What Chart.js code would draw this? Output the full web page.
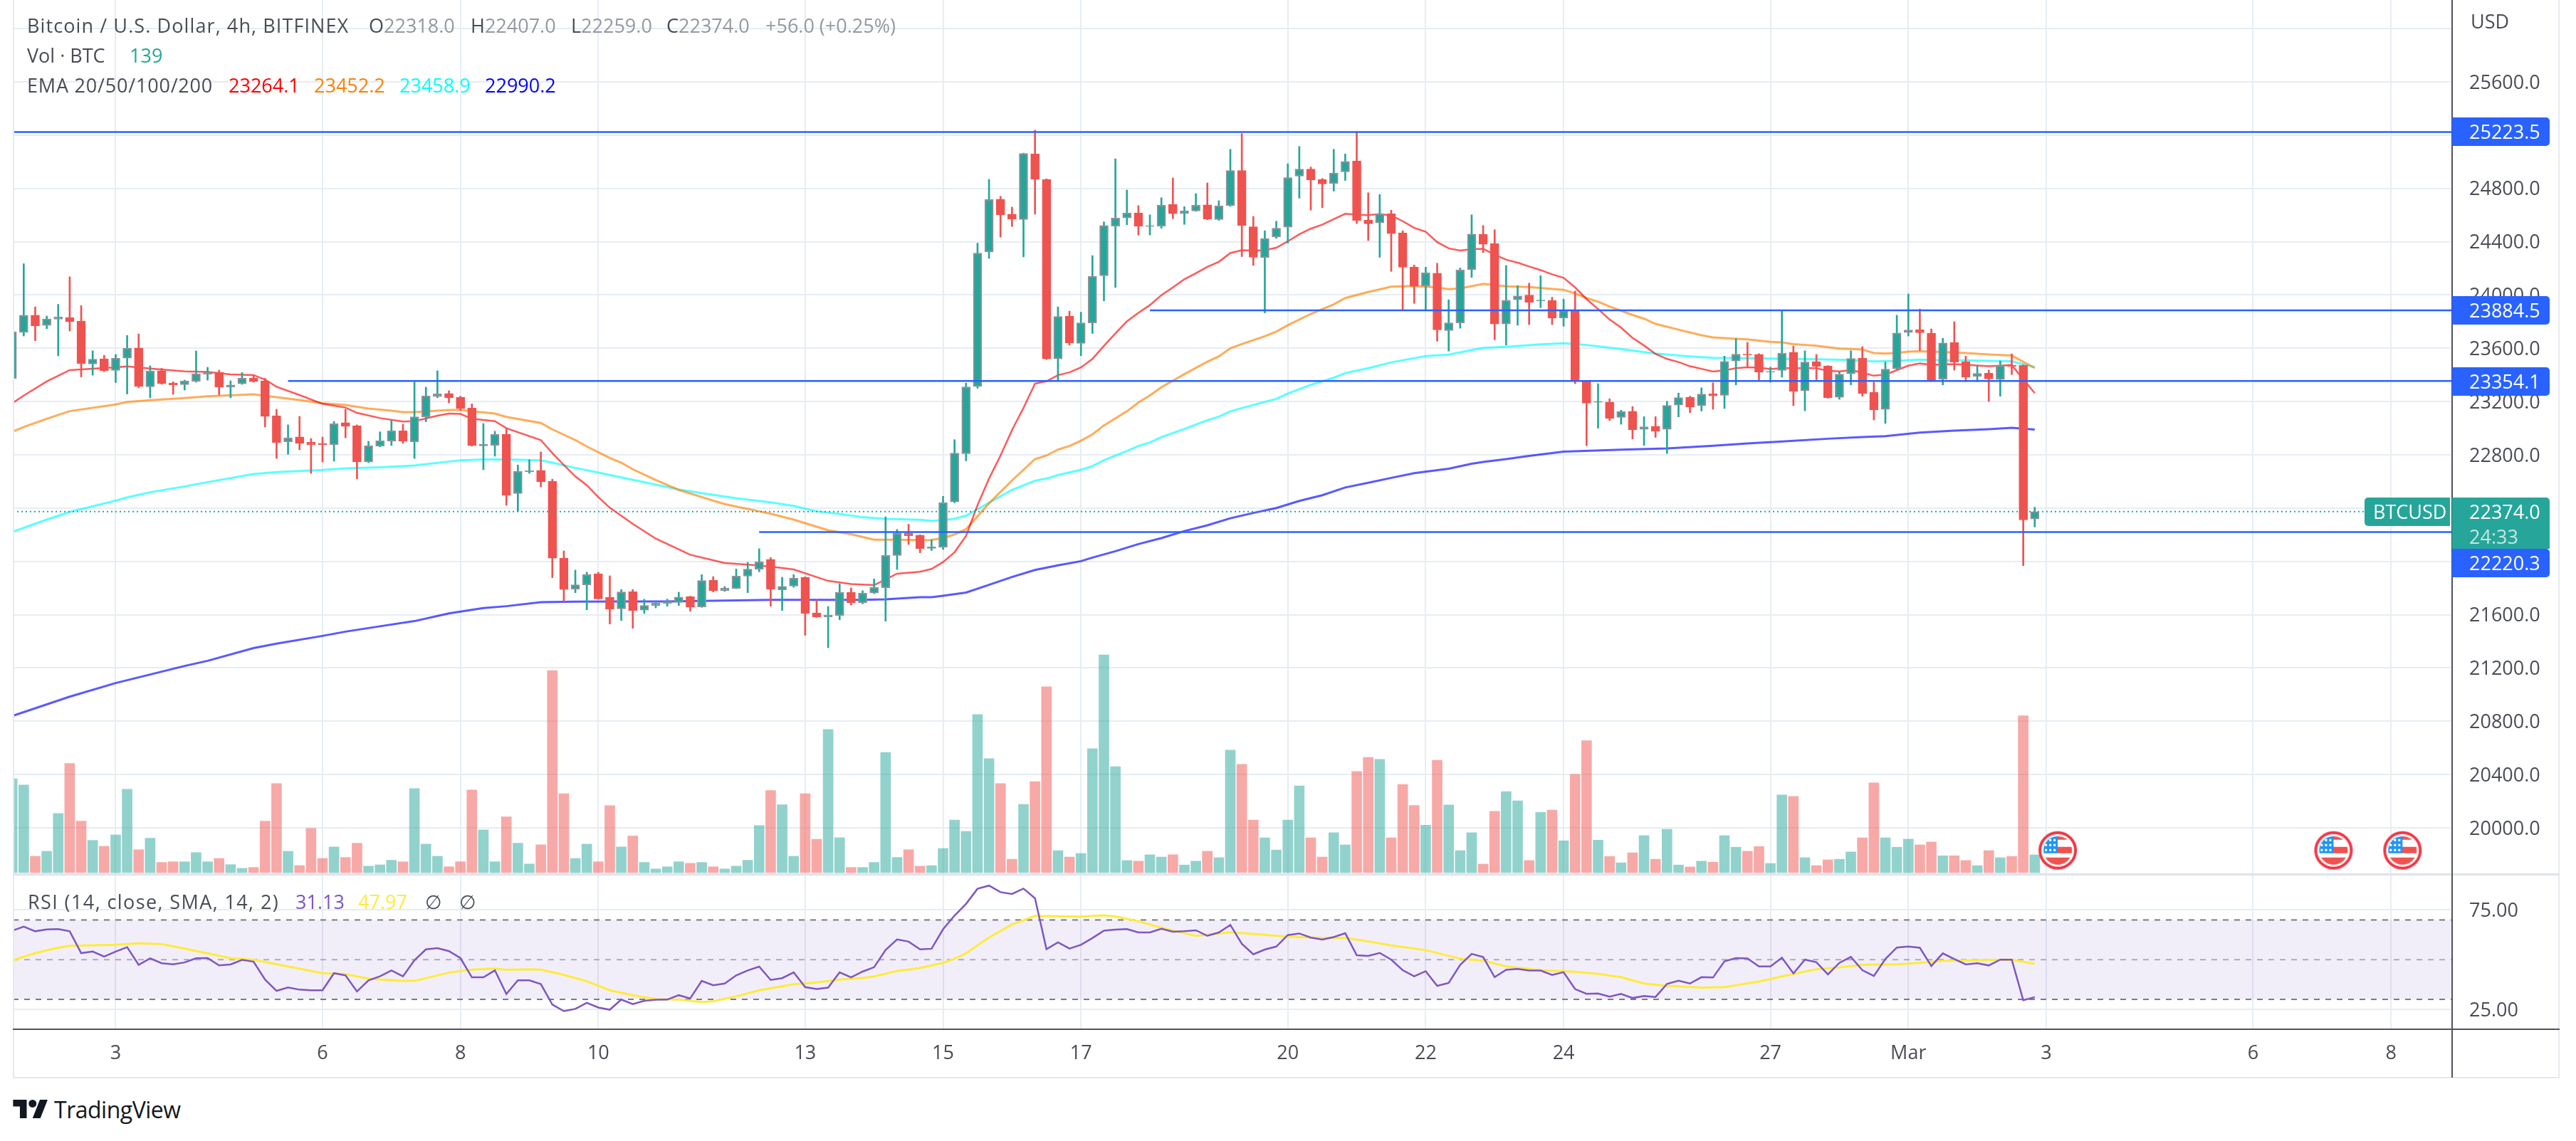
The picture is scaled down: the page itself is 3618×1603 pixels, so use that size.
<!DOCTYPE html>
<html>
<head>
<meta charset="utf-8">
<title>BTCUSD</title>
<script src="https://cdn.jsdelivr.net/npm/chart.js@4"></script>
<style>
  html, body { margin: 0; padding: 0; background: #fff; width: 3618px; height: 1603px; overflow: hidden; }
  body { position: relative; font-family: "Open Sans", sans-serif; font-size: 27px; color: #4a4c55; }
  canvas { position: absolute; left: 0; }
  #mainChart { top: 0; }
  #rsiChart { top: 1228px; }
  .t { position: absolute; white-space: nowrap; line-height: 36px; height: 36px; }
  .rule { position: absolute; }
  .badge { position: absolute; color: #fff; white-space: nowrap; box-sizing: border-box; line-height: 40px; padding-left: 24px; left: 3444px; width: 137px; height: 40px; background: #2962ff; border-radius: 0 5px 5px 0; }
</style>
</head>
<body>
<canvas id="mainChart" width="3618" height="1228" style="width:3618px;height:1228px"></canvas>
<canvas id="rsiChart" width="3618" height="286" style="width:3618px;height:286px"></canvas>

<div class="rule" style="left:18px;top:0;width:2px;height:1514px;background:#e6eaef"></div>
<div class="rule" style="left:3593px;top:0;width:2px;height:1514px;background:#e6eaef"></div>
<div class="rule" style="left:18px;top:1513px;width:3577px;height:2px;background:#e6eaef"></div>
<div class="rule" style="left:18px;top:1227px;width:3577px;height:3px;background:#e0e3eb"></div>
<div class="rule" style="left:18px;top:1445px;width:3577px;height:2px;background:#50535e"></div>
<div class="rule" style="left:3443px;top:0;width:2px;height:1514px;background:#50535e"></div>

<div class="t" style="left:38px;top:18px;letter-spacing:1.1px">Bitcoin / U.S. Dollar, 4h, BITFINEX</div>
<div class="t" style="left:518px;top:18px">O<span style="color:#9598a1">22318.0</span></div>
<div class="t" style="left:661px;top:18px">H<span style="color:#9598a1">22407.0</span></div>
<div class="t" style="left:802px;top:18px">L<span style="color:#9598a1">22259.0</span></div>
<div class="t" style="left:936px;top:18px">C<span style="color:#9598a1">22374.0</span></div>
<div class="t" style="left:1075px;top:18px;color:#9598a1">+56.0 (+0.25%)</div>
<div class="t" style="left:38px;top:60px">Vol · BTC</div>
<div class="t" style="left:182px;top:60px;color:#26a69a">139</div>
<div class="t" style="left:38px;top:102px;letter-spacing:0.8px">EMA 20/50/100/200</div>
<div class="t" style="left:321px;top:102px;color:#ff0000">23264.1</div>
<div class="t" style="left:441px;top:102px;color:#ff8000">23452.2</div>
<div class="t" style="left:561px;top:102px;color:#00ffff">23458.9</div>
<div class="t" style="left:681px;top:102px;color:#0000ff">22990.2</div>
<div class="t" style="left:39px;top:1249px;letter-spacing:1.4px">RSI (14, close, SMA, 14, 2)</div>
<div class="t" style="left:415px;top:1249px;color:#7e57c2">31.13</div>
<div class="t" style="left:503px;top:1249px;color:#ffeb3b">47.97</div>
<div class="t" style="left:597px;top:1249px">∅</div>
<div class="t" style="left:645px;top:1249px">∅</div>
<div class="t" style="left:3470px;top:12px">USD</div>

<div class="badge" style="top:165px">25223.5</div>
<div class="badge" style="top:416px">23884.5</div>
<div class="badge" style="top:516px">23354.1</div>
<div class="badge" style="top:771px">22220.3</div>
<div class="badge" style="top:699px;height:72px;background:#26a69a;border-radius:0 5px 0 0">22374.0<br><span style="color:#c4e6e2;line-height:30px;display:block">24:33</span></div>
<div class="badge" style="left:3321px;top:699px;width:120px;padding-left:12px;background:#26a69a;border-radius:5px 0 0 5px">BTCUSD</div>

<svg style="position:absolute;left:18px;top:1545px" width="50" height="26" viewBox="0 0 36 19"><path fill="#131722" d="M14 19H7V7H0V0h14v19zM28 19h-8L27.5 0h8L28 19z"/><circle cx="20" cy="4" r="4" fill="#131722"/></svg>
<div class="t" style="left:76px;top:1541px;font-size:32px;color:#131722;letter-spacing:-0.5px">TradingView</div>

<script>
// candles, one per 4h bar
const opens = [
  23373,23720,23848,23772,23818,23831,23804,23482,23520,23434,23526,23602,23311,23431,23340,23327,23352,23406,23418,23310,
  23333,23375,23356,23094,22898,22934,22895,22886,22877,23041,23019,22747,22866,22903,22980,22898,23085,23237,23260,23233,
  23151,22868,22871,22955,22510,22672,22683,22602,22025,21792,21824,21908,21730,21644,21773,21634,21669,21685,21692,21735,
  21658,21858,21780,21797,21890,21942,22015,21787,21815,21881,21614,21584,21594,21769,21691,21762,21803,22045,22211,22197,
  22098,22106,22446,22808,23313,24323,24719,24607,24567,25059,24868,23520,23842,23637,23791,24145,24517,24578,24615,24515,
  24517,24679,24610,24631,24676,24567,24671,24934,24512,24280,24435,24509,24892,24945,24868,24836,24924,25006,24562,24541,
  24610,24466,24209,24068,24163,23733,23791,24190,24456,24387,23783,23964,23999,23955,23959,23826,23882,23353,23195,23196,
  23081,23127,22992,23015,22992,23173,23232,23169,23259,23247,23505,23556,23555,23421,23434,23570,23282,23499,23467,23232,
  23408,23526,23268,23141,23446,23718,23740,23713,23368,23642,23499,23388,23413,23366,23472,23472,22318];
const highs = [
  23730,24235,23911,23842,23930,24137,23920,23581,23547,23553,23696,23708,23468,23450,23349,23361,23580,23457,23436,23356,
  23418,23397,23374,23142,23025,23089,22923,22934,23051,23142,23025,22902,22973,23058,23030,23347,23308,23431,23281,23240,
  23183,23035,22977,23000,22724,22763,22822,22617,22079,21935,21919,21919,21892,21789,21789,21716,21700,21717,21769,21740,
  21901,21886,21812,21943,21993,22095,22029,21881,21901,21885,21712,21662,21833,21801,21780,21868,22335,22240,22279,22200,
  22162,22489,22914,23339,24389,24868,24740,24660,25065,25237,24872,23911,23879,23871,24296,24549,25022,24788,24671,24602,
  24730,24878,24663,24761,24841,24708,25094,25211,24589,24482,24554,24985,25115,24961,24875,25094,25059,25227,24767,24754,
  24637,24482,24225,24209,24238,23964,24203,24602,24522,24490,24222,24070,24089,24145,23983,23969,24030,23358,23334,23221,
  23135,23163,23087,23087,23202,23264,23240,23303,23341,23541,23673,23644,23560,23459,23888,23617,23581,23554,23470,23425,
  23581,23612,23345,23497,23848,24008,23894,23745,23675,23799,23541,23469,23436,23505,23558,23476,22407];
const lows = [
  23365,23692,23657,23747,23543,23730,23385,23398,23425,23343,23257,23305,23228,23330,23254,23286,23345,23361,23249,23228,
  23329,23345,23009,22773,22804,22838,22661,22747,22752,22928,22620,22741,22860,22870,22887,22773,23048,23229,23190,23133,
  22865,22688,22790,22421,22376,22661,22560,21878,21700,21765,21637,21715,21530,21557,21498,21610,21651,21664,21669,21626,
  21655,21771,21775,21795,21765,21922,21664,21632,21806,21445,21580,21352,21562,21673,21682,21758,21552,21940,22127,22065,
  22082,22090,22440,22755,23300,24275,24435,24514,24286,24607,23515,23353,23624,23544,23711,23956,24057,24527,24450,24450,
  24501,24573,24530,24628,24565,24560,24665,24288,24222,23866,24425,24389,24727,24637,24655,24780,24860,24536,24408,24283,
  24177,23882,23937,23884,23653,23579,23751,24132,24318,23664,23624,23773,23778,23905,23778,23765,23334,22869,23000,23058,
  23030,22919,22871,22931,22810,23085,23116,23129,23142,23148,23325,23455,23362,23345,23383,23169,23131,23364,23225,23217,
  23325,23240,23062,23036,23440,23692,23583,23350,23325,23436,23350,23350,23201,23240,23402,21969,22259];
const closes = [
  23724,23848,23768,23820,23835,23800,23486,23518,23432,23526,23600,23313,23429,23336,23326,23354,23408,23418,23308,23324,
  23375,23350,23089,22891,22927,22886,22875,22875,23033,23014,22747,22868,22905,22980,22902,23085,23242,23258,23228,23146,
  22870,22878,22953,22496,22676,22681,22597,22025,21790,21824,21901,21719,21641,21771,21632,21669,21687,21698,21733,21658,
  21856,21780,21801,21890,21942,21997,21792,21812,21874,21609,21582,21596,21767,21689,21762,21805,22045,22211,22193,22097,
  22109,22441,22813,23310,24315,24716,24602,24570,25062,24868,23520,23839,23640,23791,24139,24522,24578,24615,24517,24520,
  24674,24610,24631,24674,24570,24668,24934,24522,24283,24424,24501,24881,24945,24865,24833,24916,25003,24560,24535,24610,
  24461,24209,24065,24166,23738,23791,24187,24458,24381,23783,23961,23993,23945,23962,23826,23882,23353,23188,23200,23074,
  23125,22988,23011,22978,23171,23230,23160,23257,23243,23501,23556,23550,23421,23426,23562,23278,23497,23463,23230,23406,
  23524,23261,23139,23444,23715,23738,23717,23362,23640,23497,23383,23411,23369,23471,23465,22311,22374];
const volumes = [
  733,685,128,167,462,852,402,252,206,295,651,179,269,80,85,85,157,85,111,63,
  34,41,402,695,167,56,346,111,201,119,230,51,61,97,85,656,223,128,46,85,
  646,334,85,436,230,68,218,1578,617,111,223,85,523,201,286,80,29,46,85,73,
  80,46,29,51,97,368,641,530,128,617,261,1118,273,41,41,80,939,119,179,51,
  55,189,411,322,1234,890,696,105,533,711,1451,172,122,150,967,1700,828,95,90,140,
  122,140,60,90,167,117,957,845,411,272,177,411,678,272,122,312,217,790,900,885,
  272,688,524,371,878,529,172,312,67,479,633,561,95,471,489,249,768,1030,254,127,
  77,155,289,105,339,60,45,90,82,289,199,167,204,72,606,596,117,55,100,105,
  162,272,701,272,199,262,217,239,132,132,95,55,172,117,127,1224,139];
const rsiValues = [
  64.6,66.6,64.3,65.2,65.4,64.3,53.3,54.1,51.6,54.1,56.3,47.4,50.7,48.2,47.7,48.6,50.7,50.8,47.1,47.6,
  49.9,49,40,34.3,36,34.9,34.6,34.6,43.2,42.1,34,39.6,41.6,44.6,41.6,49.7,55.2,55.8,54.3,50.8,
  41.1,41.1,44.6,32.7,39.6,39.6,37.7,27.4,24.1,25.2,28.3,25.9,24.8,29.9,27.6,29.3,29.8,29.9,32.1,30.5,
  39.3,37.1,38,42.1,44.6,46.5,39.8,40.7,43.6,36.2,35.2,35.9,43.6,41.1,44,46.2,54.9,60.2,59.1,55.2,
  55.5,65.3,72.2,78.1,85.7,87.3,84,83.1,85.8,80.9,55.3,58.7,55.6,57.5,60.9,64.6,65.1,65.4,63.7,63.7,
  65.6,64.1,64.3,64.8,62,63.7,67.5,58,52.7,55.1,56.6,62.4,63.2,61.1,60.1,61.4,63.3,52.2,51.9,53.4,
  50,44.7,41.6,44.2,36.8,38.3,47.4,52.9,51.3,41.2,44.9,45.3,44.5,44.5,42.3,43.7,35.2,32.8,33,31.4,
  32.8,30.7,31.7,31.2,37.8,39.4,38,41.2,41,49.2,50.8,50.6,46.6,46.6,51,43.1,50,48.7,42.6,48.4,
  51.4,44.7,41.8,50.3,56.1,56.6,56,46.8,53.2,50.3,47.6,48.2,47.1,50,50,29.6,31.13];

// overlay lines are read only where they bend, so each has its own bar numbers
const ema20Bars = [0,1,3,5,9,10,12,15,17,19,21,22,23,25,27,29,30,32,34,35,37,38,39,40,42,43,46,47,48,49,50,51,52,54,56,59,62,64,66,68,71,73,75,77,79,80,81,82,83,84,85,86,87,88,89,90,91,92,93,94,95,96,97,98,99,100,101,102,103,104,105,106,107,108,109,110,111,112,113,114,115,116,117,118,119,120,121,122,123,124,125,126,127,128,129,130,131,132,133,134,135,136,137,138,139,140,141,142,143,144,145,146,147,148,149,150,151,152,153,154,155,157,158,159,160,161,162,163,164,165,166,167,169,170,171,172,174,175,176];
const ema20Values = [23187,23245,23351,23436,23457,23464,23448,23427,23422,23404,23399,23365,23311,23249,23183,23155,23115,23076,23050,23053,23094,23110,23107,23071,23053,23000,22911,22813,22724,22638,22572,22483,22403,22282,22171,22050,21988,21976,21961,21940,21854,21830,21822,21908,21923,21944,21995,22069,22191,22422,22622,22795,22986,23153,23334,23353,23398,23419,23456,23520,23618,23712,23802,23866,23924,23999,24057,24118,24163,24211,24249,24315,24336,24334,24336,24355,24403,24456,24498,24528,24570,24610,24602,24599,24607,24597,24554,24504,24475,24397,24350,24334,24344,24347,24302,24265,24243,24214,24187,24155,24129,24057,23969,23895,23816,23755,23678,23621,23558,23520,23497,23465,23446,23425,23434,23451,23457,23455,23444,23450,23450,23450,23430,23427,23436,23417,23394,23402,23436,23469,23486,23476,23482,23478,23471,23465,23474,23367,23264];
const ema50Bars = [0,1,3,5,9,10,12,15,17,21,22,25,27,29,31,33,34,35,38,39,40,42,43,46,47,49,50,52,53,54,56,58,60,62,65,66,68,71,73,75,77,79,80,81,82,83,85,87,89,90,91,92,93,94,95,97,98,99,100,102,104,105,106,107,109,110,111,113,115,116,118,120,122,124,125,126,128,130,132,135,136,137,138,139,141,142,143,145,147,148,150,151,153,154,155,157,159,161,162,163,164,165,166,168,170,172,174,176];
const ema50Values = [22973,23009,23071,23128,23178,23197,23210,23226,23240,23254,23244,23212,23187,23174,23148,23131,23121,23121,23137,23137,23128,23110,23085,23039,22991,22911,22863,22777,22741,22692,22611,22537,22483,22430,22376,22358,22314,22234,22204,22163,22163,22160,22162,22175,22202,22242,22436,22608,22768,22795,22840,22866,22906,22954,23021,23127,23193,23246,23308,23406,23499,23539,23600,23632,23690,23725,23773,23858,23930,23977,24022,24062,24068,24057,24044,24049,24084,24065,24060,24039,24012,23977,23950,23913,23850,23822,23783,23740,23698,23682,23671,23667,23648,23644,23631,23619,23598,23591,23564,23560,23566,23575,23577,23572,23564,23553,23545,23452];
const ema100Bars = [0,3,5,9,10,12,15,17,21,23,27,29,32,35,38,39,41,43,46,47,49,52,55,58,61,63,66,68,70,72,74,76,79,80,81,82,83,85,87,89,90,91,93,94,95,97,98,99,100,102,104,105,106,108,110,111,113,115,116,118,120,122,123,125,127,128,130,133,135,137,140,143,146,148,151,154,157,160,162,164,166,168,170,172,174,176];
const ema100Values = [22221,22314,22371,22456,22481,22519,22563,22595,22656,22670,22686,22699,22706,22720,22750,22759,22766,22765,22759,22741,22702,22649,22594,22540,22499,22474,22444,22417,22376,22357,22332,22319,22312,22305,22311,22321,22343,22441,22537,22606,22622,22648,22688,22715,22760,22829,22866,22893,22933,22994,23060,23087,23127,23175,23220,23260,23326,23379,23414,23451,23494,23526,23542,23552,23587,23603,23611,23629,23637,23625,23593,23560,23539,23528,23526,23522,23518,23512,23501,23505,23515,23509,23509,23505,23503,23459];
const ema200Bars = [0,5,9,12,15,17,21,23,27,29,32,35,38,41,43,46,49,53,57,60,63,66,70,74,76,79,80,81,83,85,87,89,91,93,94,96,98,100,102,104,106,108,110,112,114,116,118,120,122,125,127,128,130,132,135,140,144,148,151,154,158,161,163,166,169,172,174,176];
const ema200Values = [20840,20985,21087,21151,21215,21254,21349,21383,21441,21473,21513,21552,21610,21650,21664,21694,21698,21700,21700,21703,21707,21712,21712,21712,21716,21732,21731,21742,21766,21824,21883,21936,21971,22002,22029,22077,22130,22175,22228,22271,22324,22364,22401,22454,22497,22555,22590,22627,22662,22696,22733,22747,22768,22792,22824,22839,22848,22868,22885,22900,22921,22934,22940,22967,22982,22993,23003,22990];
const rsiMaBars = [0,2,4,5,9,11,13,16,18,19,21,24,27,29,31,34,35,38,40,42,43,45,46,48,50,52,54,56,58,60,61,63,65,68,70,72,74,75,77,79,81,82,83,85,87,89,91,93,95,96,98,100,102,103,105,106,108,111,114,116,118,120,123,126,128,130,133,136,138,140,142,144,147,149,152,154,157,159,161,164,166,168,171,174,176];
const rsiMaValues = [49.6,53.3,56,57,57.5,58.2,57.9,54.4,52,50.7,50,46.6,43.2,42.7,40.4,39.3,39.3,43.5,45,45.5,44.9,45.2,45,42.4,39.1,34.6,32.1,30.1,29.9,28.7,29,31.5,34.6,37.6,38.5,40,40.8,41.6,44.3,45.8,48.4,50.5,53.2,61.2,67.7,72,71.9,71.7,72.3,71.8,69.3,66.1,63.3,62,63.2,63.8,63,61.6,60.9,60.9,59.2,57.2,54.8,50.5,49.5,46.6,44.7,43.9,42.8,41.2,38,36.8,35.9,36.2,39,41.6,45.2,46.1,47.4,47.7,48.4,49.4,49.7,50,47.97];

// drawn levels: price and the bar each one starts from
const levelPrices = [25223.5,23884.5,23354.1,22220.3];
const levelStarts = [0,99,24,65];
const lastPrice = 22374;

// axes
const priceTicks = [26000,25600,25200,24800,24400,24000,23600,23200,22800,22400,22000,21600,21200,20800,20400,20000];
const rsiTicks = [75,25];
const rsiBands = [70,50,30];
const dayBars = [9,27,39,51,69,81,93,111,123,135,153,165,177,195,207];
const dayLabels = ['3','6','8','10','13','15','17','20','22','24','27','Mar','3','6','8'];
const eventBars = [178,202,208];
const eventLevel = 174;

const GREEN = '#26a69a';
const RED = '#ef5350';
const GRID = '#e6edf3';
const FONT = '"Open Sans", sans-serif';
const X_MIN = 0.05;
const X_MAX = 212.32;

const bars = opens.map((o, i) => i);
const isUp = i => closes[i] >= opens[i];

function xy(xs, ys) {
    return xs.map((x, i) => ({ x: x, y: ys[i] }));
}

function line(data, color, width, order, yAxisID) {
    return {
        type: 'line', data: data, borderColor: color, borderWidth: width, order: order,
        pointRadius: 0, tension: 0, fill: false, yAxisID: yAxisID || 'y'
    };
}

function flagIcon() {
    const c = document.createElement('canvas');
    c.width = 56;
    c.height = 56;
    const g = c.getContext('2d');
    g.save();
    g.beginPath();
    g.arc(28, 28, 25, 0, Math.PI * 2);
    g.fillStyle = '#fff';
    g.fill();
    g.beginPath();
    g.arc(28, 28, 20, 0, Math.PI * 2);
    g.clip();
    g.fillStyle = RED;
    g.fillRect(28, 8, 20, 5);
    g.fillRect(28, 23, 20, 9);
    g.fillRect(8, 38, 40, 10);
    g.fillStyle = '#2196f3';
    g.fillRect(8, 8, 20, 24);
    g.fillStyle = '#fff';
    [11, 17, 23].forEach(x => [13, 20, 27].forEach(y => g.fillRect(x - 1, y - 1, 3, 3)));
    g.restore();
    g.beginPath();
    g.arc(28, 28, 25, 0, Math.PI * 2);
    g.lineWidth = 4;
    g.strokeStyle = '#f23645';
    g.stroke();
    return c;
}

function fixTicks(values) {
    return scale => { scale.ticks = values.map(v => ({ value: v })); };
}

// keep the plot area exactly where the layout padding puts it
function noPadding(scale) {
    scale.paddingTop = 0;
    scale.paddingBottom = 0;
    scale.paddingLeft = 0;
    scale.paddingRight = 0;
}

function xScale(showLabels) {
    return {
        type: 'linear', min: X_MIN, max: X_MAX, offset: false,
        afterBuildTicks: fixTicks(dayBars),
        afterFit: scale => { scale.height = showLabels ? 68 : 0; noPadding(scale); },
        grid: { color: GRID, lineWidth: 2, drawTicks: false, offset: false },
        border: { display: false },
        ticks: {
            display: showLabels, autoSkip: false, maxRotation: 0, padding: 18, color: '#4a4c55',
            font: { family: FONT, size: 27 },
            callback: v => dayLabels[dayBars.indexOf(v)]
        }
    };
}

function yScale(min, max, values, format) {
    return {
        type: 'linear', position: 'right', min: min, max: max,
        afterBuildTicks: fixTicks(values),
        afterFit: scale => { scale.width = 149; noPadding(scale); },
        grid: { color: GRID, lineWidth: 2, drawTicks: false },
        border: { display: false },
        ticks: { autoSkip: false, padding: 24, labelOffset: 2, color: '#4a4c55', font: { family: FONT, size: 27 }, callback: format }
    };
}

const common = {
    responsive: false, animation: false, devicePixelRatio: 1, events: [],
    plugins: { legend: { display: false }, tooltip: { enabled: false } }
};

new Chart(document.getElementById('mainChart'), {
    data: {
        datasets: [
            ...levelPrices.map((p, i) => line(xy([levelStarts[i], X_MAX], [p, p]), '#2962ff', 2.5, 0)),
            { ...line(xy([X_MIN, X_MAX], [lastPrice, lastPrice]), GREEN, 2, 1), borderDash: [2, 4] },
            {
                type: 'bar', label: 'bodies', order: 2, grouped: false, barThickness: 12,
                data: bars.map(i => ({ x: i, y: [opens[i], closes[i]] })),
                backgroundColor: bars.map(i => isUp(i) ? GREEN : RED),
                borderColor: bars.map(i => isUp(i) ? '#8c9199' : RED),
                borderWidth: 2, borderSkipped: false
            },
            {
                type: 'bar', label: 'wicks', order: 3, grouped: false, barThickness: 2,
                data: bars.map(i => ({ x: i, y: [lows[i], highs[i]] })),
                backgroundColor: bars.map(i => isUp(i) ? GREEN : RED)
            },
            line(xy(ema20Bars, ema20Values), 'rgba(255,0,0,0.65)', 2.5, 4),
            line(xy(ema50Bars, ema50Values), 'rgba(255,128,0,0.65)', 3, 5),
            line(xy(ema100Bars, ema100Values), 'rgba(0,255,255,0.65)', 3, 6),
            line(xy(ema200Bars, ema200Values), 'rgba(0,0,255,0.65)', 3, 7),
            {
                type: 'bar', label: 'volume', order: 8, grouped: false, barThickness: 14, yAxisID: 'yVol',
                data: bars.map(i => ({ x: i, y: volumes[i] })),
                backgroundColor: bars.map(i => isUp(i) ? 'rgba(38,166,154,0.5)' : 'rgba(239,83,80,0.5)')
            },
            {
                type: 'scatter', label: 'events', order: 0, yAxisID: 'yVol',
                data: eventBars.map(b => ({ x: b, y: eventLevel })),
                pointStyle: flagIcon(), pointRadius: 28
            }
        ]
    },
    options: {
        ...common,
        layout: { autoPadding: false, padding: { left: 18, right: 25, top: 0, bottom: 0 } },
        scales: {
            x: xScale(false),
            y: yScale(19653, 26214.4, priceTicks, v => v === 26000 ? '' : v.toFixed(1)),
            yVol: { type: 'linear', display: false, min: -11, max: 6811 }
        }
    }
});

new Chart(document.getElementById('rsiChart'), {
    data: {
        datasets: [
            { ...line(xy([X_MIN, X_MAX], [rsiBands[0], rsiBands[0]]), '#787b86', 2, 3), borderDash: [8, 8], fill: { target: '+2' }, backgroundColor: 'rgba(126,87,194,0.1)' },
            { ...line(xy([X_MIN, X_MAX], [rsiBands[1], rsiBands[1]]), '#b2b5be', 2, 3), borderDash: [8, 8] },
            { ...line(xy([X_MIN, X_MAX], [rsiBands[2], rsiBands[2]]), '#787b86', 2, 3), borderDash: [8, 8] },
            line(xy(bars, rsiValues), '#7e57c2', 2.5, 1),
            line(xy(rsiMaBars, rsiMaValues), '#ffeb3b', 3, 2)
        ]
    },
    options: {
        ...common,
        layout: { autoPadding: false, padding: { left: 18, right: 25, top: 0, bottom: 0 } },
        scales: {
            x: xScale(true),
            y: yScale(14.96, 93.1, rsiTicks, v => v.toFixed(2))
        }
    }
});
</script>
</body>
</html>
